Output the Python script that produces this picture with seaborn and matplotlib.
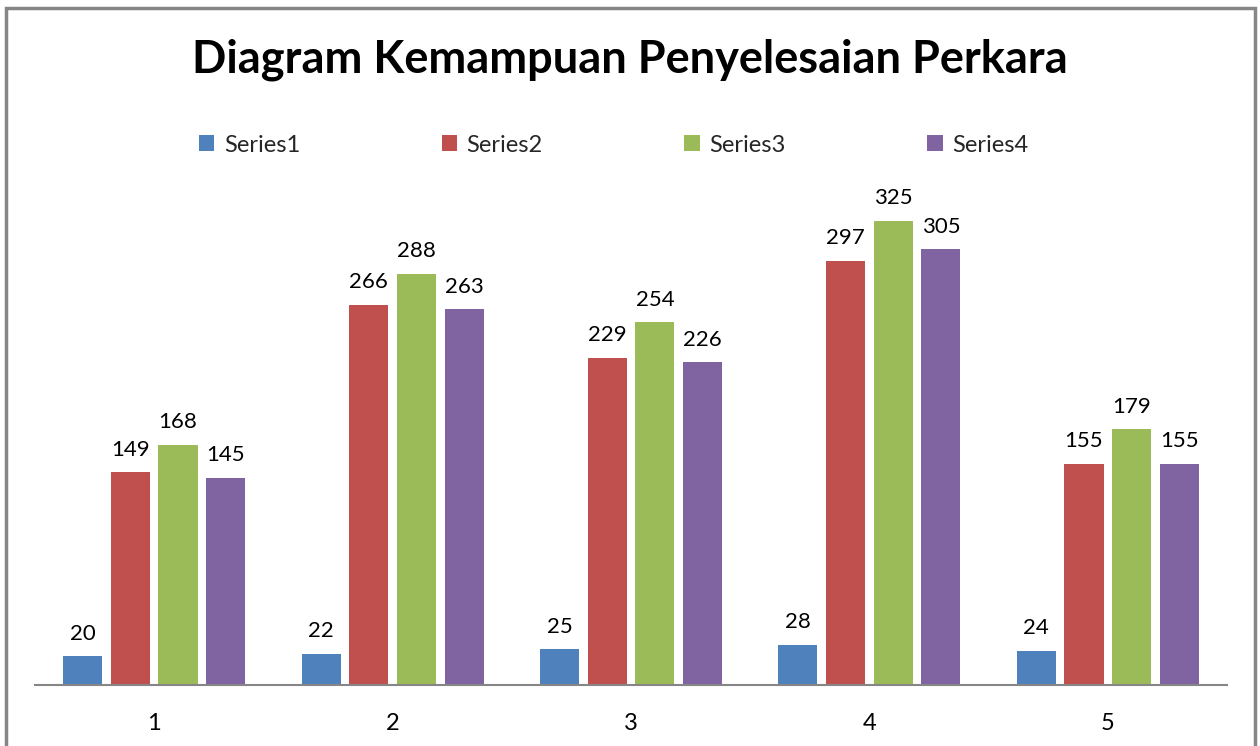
import matplotlib
matplotlib.use("Agg")
import matplotlib.pyplot as plt
import seaborn as sns
import pandas as pd
from matplotlib.patches import Rectangle

categories = ["1", "2", "3", "4", "5"]
series_names = ["Series1", "Series2", "Series3", "Series4"]
series1 = [20, 22, 25, 28, 24]
series2 = [149, 266, 229, 297, 155]
series3 = [168, 288, 254, 325, 179]
series4 = [145, 263, 226, 305, 155]
colors = ["#4F81BD", "#C0504D", "#9BBB59", "#8064A2"]

rows = []
for name, vals in zip(series_names, [series1, series2, series3, series4]):
    for c, v in zip(categories, vals):
        rows.append({"cat": c, "series": name, "value": v})
df = pd.DataFrame(rows)

sns.set_theme(style="white")
plt.rcParams["font.family"] = ["Lato", "DejaVu Sans"]

fig = plt.figure(figsize=(12.6, 7.46), dpi=100)
ax = fig.add_axes([35/1260, 61/746, (1227-35)/1260, (685-185)/746])

sns.barplot(data=df, x="cat", y="value", hue="series", palette=colors,
            order=categories, hue_order=series_names, width=0.8, gap=0.18,
            saturation=1, ax=ax, edgecolor="none")

ax.set_ylim(0, 350)
ax.set_xlim(-0.5, 4.5)
for cont in ax.containers:
    ax.bar_label(cont, padding=9, fontsize=16, color="#000000")

for s in ["left", "right", "top"]:
    ax.spines[s].set_visible(False)
ax.spines["bottom"].set_color("#868686")
ax.spines["bottom"].set_linewidth(1.5)
ax.set_yticks([])
ax.set_xlabel("")
ax.set_ylabel("")
ax.tick_params(axis="x", length=0, pad=20, labelsize=17, colors="#000000")

sns.move_legend(ax, "center", ncol=4, frameon=False, title=None, fontsize=17,
                handlelength=0.65, handleheight=0.65, handletextpad=0.4,
                columnspacing=6.0)
leg = ax.get_legend()
leg.set_bbox_to_anchor((0.487, 1 - 145/746), transform=fig.transFigure)

fig.text(0.5, 1 - 60/746, "Diagram Kemampuan Penyelesaian Perkara",
         ha="center", va="center", fontsize=32.5, fontweight="bold", color="#000000")

fig.patches.append(Rectangle((6/1260, -0.1), (1255-6)/1260, 1.1 - 8/746,
                             transform=fig.transFigure, fill=False,
                             edgecolor="#868686", linewidth=2.5, zorder=10))

fig.savefig("out.png", dpi=100)
